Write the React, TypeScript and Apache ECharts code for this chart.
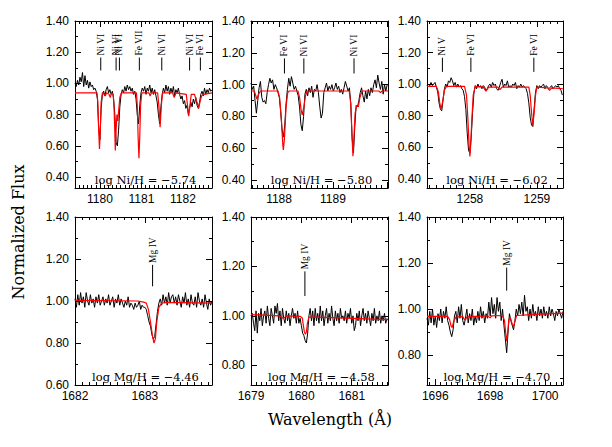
import React, { useEffect, useRef } from "react";
import * as echarts from "echarts";

// ---------- Observed spectra (black): start wavelength, step, flux values ----------
const OBS1_START = 1179.4, OBS1_STEP = 0.03;
const OBS1 = [
  1.00, 0.98, 1.02, 0.99, 1.04, 1.01, 1.07, 0.98, 1.05, 0.99,
  1.02, 0.97, 1.01, 0.98, 0.99, 0.96, 0.97, 0.95, 0.90, 0.72,
  0.64, 0.84, 0.93, 0.95, 0.92, 0.96, 0.98, 0.94, 0.96, 0.93,
  0.95, 0.90, 0.80, 0.62, 0.60, 0.70, 0.85, 0.93, 0.96, 0.94,
  0.98, 0.95, 0.99, 0.96, 0.98, 0.95, 0.97, 0.93, 0.95, 0.90,
  0.80, 0.74, 0.86, 0.94, 0.97, 0.95, 0.98, 0.93, 0.97, 0.95,
  0.99, 0.94, 0.97, 0.93, 0.96, 0.92, 0.88, 0.80, 0.74, 0.85,
  0.93, 0.97, 0.94, 0.99, 0.95, 0.98, 0.93, 0.97, 0.94, 0.98,
  0.92, 0.96, 0.94, 0.97, 0.93, 0.90, 0.92, 0.87, 0.89, 0.84,
  0.86, 0.80, 0.84, 0.88, 0.85, 0.90, 0.87, 0.91, 0.86, 0.84,
  0.88, 0.93, 0.95, 0.92, 0.97, 0.93, 0.96, 0.94, 0.97, 0.95, 0.96,
];

const OBS2_START = 1187.48, OBS2_STEP = 0.025;
const OBS2 = [
  1.01, 0.97, 0.99, 0.90, 0.82, 0.90, 0.98, 1.02, 0.92, 0.89,
  0.90, 0.88, 0.95, 1.00, 1.04, 1.01, 1.03, 0.97, 1.00, 0.98,
  0.95, 0.92, 0.83, 0.72, 0.67, 0.74, 0.88, 0.97, 1.04, 0.99,
  1.05, 1.01, 0.97, 0.99, 0.96, 0.93, 0.86, 0.75, 0.71, 0.80,
  0.94, 0.97, 0.93, 0.98, 0.95, 0.99, 0.92, 0.97, 0.96, 1.00,
  0.95, 0.86, 0.79, 0.82, 0.95, 0.98, 1.01, 0.96, 0.99, 0.97,
  1.00, 0.96, 0.98, 1.01, 0.97, 0.99, 0.95, 0.97, 0.94, 0.98,
  1.02, 0.99, 0.96, 0.98, 0.88, 0.66, 0.57, 0.74, 0.87, 0.86,
  0.90, 0.95, 0.98, 0.93, 0.89, 0.96, 0.91, 0.97, 0.93, 0.98,
  0.95, 1.00, 1.03, 0.98, 1.06, 1.01, 0.97, 1.02, 0.94, 1.00,
  0.96, 1.00,
];

const OBS3_START = 1257.36, OBS3_STEP = 0.02;
const OBS3 = [
  0.99, 1.00, 0.99, 1.01, 0.99, 1.00, 1.01, 0.98, 0.95, 0.88,
  0.84, 0.83, 0.90, 0.97, 1.00, 0.98, 1.02, 1.01, 1.04, 1.02,
  0.99, 1.01, 0.98, 1.00, 0.98, 0.99, 0.97, 0.96, 0.92, 0.84,
  0.69, 0.58, 0.56, 0.66, 0.82, 0.94, 0.99, 0.97, 1.00, 0.98,
  0.99, 0.97, 0.99, 0.98, 0.96, 0.97, 0.99, 1.00, 0.98, 1.01,
  0.99, 1.00, 0.97, 0.96, 0.98, 1.01, 1.03, 0.98, 1.00, 0.99,
  1.02, 0.98, 0.99, 0.98, 1.00, 0.99, 1.01, 0.97, 0.99, 0.98,
  1.00, 0.98, 0.99, 0.98, 0.97, 0.94, 0.88, 0.79, 0.74, 0.73,
  0.85, 0.95, 0.99, 0.97, 0.99, 0.98, 0.99, 1.00, 0.97, 0.99,
  0.98, 0.97, 0.98, 0.99, 0.97, 0.98, 0.99, 0.98, 0.99, 0.97,
  0.96, 0.93,
];

const OBS4_START = 1682.0, OBS4_STEP = 0.02;
const OBS4 = [
  1.01, 0.97, 1.03, 0.98, 1.04, 0.99, 1.02, 0.97, 1.04, 1.00,
  0.98, 1.03, 0.99, 1.01, 0.97, 1.02, 0.99, 1.03, 0.98, 1.00,
  1.02, 0.98, 1.01, 0.99, 1.03, 0.98, 1.00, 1.02, 0.97, 1.01,
  0.99, 1.03, 0.98, 1.01, 0.99, 0.97, 1.00, 0.98, 1.02, 0.97,
  0.99, 0.98, 0.96, 0.99, 0.97, 0.98, 1.00, 0.96, 0.98, 0.97,
  0.97, 0.96, 0.93, 0.90, 0.88, 0.84, 0.82, 0.83, 0.89, 0.95,
  0.99, 1.01, 0.98, 1.03, 0.99, 1.02, 0.98, 1.04, 0.99, 1.02,
  1.03, 0.99, 1.02, 0.98, 1.03, 1.00, 0.97, 1.02, 0.99, 1.04,
  0.98, 1.01, 0.97, 1.03, 0.99, 0.98, 1.02, 0.97, 1.04, 1.00,
  0.98, 1.01, 0.97, 1.03, 0.99, 0.96, 1.01, 0.98, 1.00,
];

const OBS5_START = 1679.0, OBS5_STEP = 0.025;
const OBS5 = [
  1.00, 1.01, 0.97, 0.94, 1.02, 0.93, 1.01, 0.98, 1.03, 0.96,
  1.00, 1.02, 0.97, 1.04, 0.99, 0.96, 1.03, 1.00, 0.97, 1.04,
  1.01, 1.05, 0.98, 1.02, 0.96, 1.03, 0.99, 0.97, 1.02, 0.98,
  1.01, 0.96, 1.00, 1.03, 0.99, 1.01, 0.97, 1.02, 0.97, 0.99,
  0.96, 0.93, 0.92, 0.90, 0.89, 0.93, 1.00, 1.03, 0.98, 1.02,
  0.96, 1.03, 0.98, 1.01, 0.97, 1.04, 0.98, 1.02, 0.96, 1.00,
  1.03, 0.97, 1.01, 0.98, 1.04, 0.99, 0.96, 1.02, 0.98, 1.01,
  0.97, 1.03, 0.99, 1.00, 0.98, 1.02, 0.97, 1.01, 0.99, 1.03,
  0.97, 1.00, 0.94, 0.96, 1.01, 0.98, 1.02, 0.96, 1.00, 1.03,
  0.98, 1.01, 0.97, 1.02, 0.99, 0.96, 1.01, 0.98, 1.03, 0.97,
  1.00, 0.98, 1.02, 0.97, 1.00, 0.98, 1.01, 0.97, 0.99,
];

const OBS6_START = 1695.7, OBS6_STEP = 0.05;
const OBS6 = [
  0.96, 0.93, 0.99, 0.94, 1.00, 0.93, 0.97, 0.92, 0.98, 0.95,
  1.00, 0.94, 0.99, 0.96, 1.01, 0.95, 0.93, 0.90, 0.88, 0.91,
  0.97, 0.99, 0.94, 1.01, 0.96, 1.02, 0.95, 0.93, 0.96, 1.00,
  0.94, 0.98, 0.95, 1.00, 0.93, 0.97, 0.94, 0.99, 0.95, 1.01,
  0.96, 0.99, 0.94, 0.98, 0.96, 1.03, 0.97, 1.05, 0.98, 1.02,
  0.96, 1.05, 0.99, 1.03, 0.95, 1.00, 0.93, 0.87, 0.81, 0.90,
  0.98, 0.95, 0.93, 0.91, 0.95, 1.00, 0.97, 1.02, 0.98, 1.03,
  0.97, 1.06, 0.99, 1.01, 0.95, 1.00, 0.96, 1.02, 0.97, 0.99,
  0.95, 1.01, 0.97, 1.00, 0.96, 1.01, 0.97, 0.99, 0.96, 1.01,
  0.97, 1.00, 0.98, 0.95, 0.99, 0.97, 1.00, 0.98, 0.96, 0.99,
];

// ---------- Model spectra (red): [wavelength, flux] ----------
const MODEL1 = [
  [1179.4, 0.94], [1179.93, 0.94], [1179.95, 0.88], [1179.97, 0.70], [1179.99, 0.58], [1180.01, 0.70],
  [1180.03, 0.88], [1180.06, 0.94], [1180.10, 0.93], [1180.13, 0.92], [1180.16, 0.94], [1180.22, 0.93],
  [1180.25, 0.91], [1180.28, 0.94], [1180.32, 0.93], [1180.34, 0.85], [1180.36, 0.68], [1180.37, 0.57],
  [1180.39, 0.70], [1180.41, 0.80], [1180.43, 0.76], [1180.45, 0.82], [1180.48, 0.91], [1180.52, 0.94],
  [1180.88, 0.94], [1180.90, 0.86], [1180.92, 0.66], [1180.94, 0.52], [1180.96, 0.66], [1180.98, 0.86],
  [1181.01, 0.94], [1181.18, 0.94], [1181.21, 0.92], [1181.24, 0.94], [1181.39, 0.94], [1181.42, 0.86],
  [1181.45, 0.72], [1181.48, 0.86], [1181.51, 0.94], [1181.75, 0.94], [1181.79, 0.91], [1181.83, 0.94],
  [1182.08, 0.93], [1182.11, 0.86], [1182.14, 0.79], [1182.17, 0.86], [1182.20, 0.93], [1182.28, 0.93],
  [1182.31, 0.90], [1182.35, 0.87], [1182.38, 0.84], [1182.41, 0.88], [1182.45, 0.92], [1182.50, 0.93],
  [1182.7, 0.94],
];
const MODEL2 = [
  [1187.48, 0.96], [1187.54, 0.96], [1187.57, 0.93], [1187.59, 0.91], [1187.62, 0.94], [1187.66, 0.96],
  [1187.98, 0.96], [1188.01, 0.92], [1188.04, 0.80], [1188.07, 0.62], [1188.08, 0.59], [1188.10, 0.66],
  [1188.13, 0.86], [1188.16, 0.95], [1188.19, 0.96], [1188.35, 0.96], [1188.38, 0.92], [1188.41, 0.84],
  [1188.43, 0.81], [1188.46, 0.86], [1188.49, 0.93], [1188.52, 0.96], [1189.30, 0.96], [1189.33, 0.88],
  [1189.35, 0.70], [1189.37, 0.55], [1189.39, 0.68], [1189.41, 0.82], [1189.44, 0.87], [1189.47, 0.86],
  [1189.50, 0.92], [1189.54, 0.96], [1189.85, 0.96], [1189.88, 0.95], [1189.91, 0.96], [1190.02, 0.96],
];
const MODEL3 = [
  [1257.36, 0.985], [1257.50, 0.985], [1257.53, 0.95], [1257.55, 0.88], [1257.57, 0.84], [1257.59, 0.88],
  [1257.62, 0.96], [1257.65, 0.985], [1257.92, 0.985], [1257.95, 0.93], [1257.97, 0.78], [1257.99, 0.60],
  [1258.00, 0.54], [1258.01, 0.60], [1258.03, 0.78], [1258.05, 0.93], [1258.08, 0.985], [1258.20, 0.98],
  [1258.24, 0.955], [1258.28, 0.98], [1258.42, 0.98], [1258.45, 0.965], [1258.48, 0.98], [1258.88, 0.98],
  [1258.90, 0.93], [1258.92, 0.82], [1258.94, 0.74], [1258.96, 0.82], [1258.98, 0.93], [1259.00, 0.98],
  [1259.16, 0.975], [1259.19, 0.96], [1259.22, 0.975], [1259.39, 0.97],
];
const MODEL4 = [
  [1682.0, 1.003], [1682.90, 1.0], [1682.98, 0.995], [1683.02, 0.99], [1683.05, 0.96], [1683.08, 0.90],
  [1683.11, 0.83], [1683.13, 0.80], [1683.15, 0.82], [1683.17, 0.90], [1683.20, 0.97], [1683.24, 0.99],
  [1683.30, 0.993], [1683.96, 0.99],
];
const MODEL5 = [
  [1679.0, 1.005], [1679.55, 1.0], [1679.60, 0.995], [1679.64, 0.99], [1679.68, 0.995], [1679.72, 1.0],
  [1679.98, 0.998], [1680.02, 0.99], [1680.04, 0.96], [1680.06, 0.935], [1680.08, 0.925], [1680.10, 0.935],
  [1680.12, 0.97], [1680.15, 0.995], [1680.30, 0.995], [1681.0, 0.99], [1681.72, 0.985],
];
const MODEL6 = [
  [1695.7, 0.968], [1696.45, 0.968], [1696.52, 0.955], [1696.58, 0.925], [1696.62, 0.92], [1696.67, 0.945],
  [1696.75, 0.965], [1697.0, 0.967], [1697.06, 0.955], [1697.10, 0.953], [1697.15, 0.966], [1697.9, 0.97],
  [1698.0, 0.962], [1698.05, 0.97], [1698.45, 0.972], [1698.52, 0.95], [1698.57, 0.89], [1698.60, 0.86],
  [1698.63, 0.89], [1698.68, 0.955], [1698.74, 0.96], [1698.80, 0.935], [1698.85, 0.925], [1698.90, 0.945],
  [1698.96, 0.972], [1699.5, 0.976], [1700.65, 0.982],
];

// ---------- Line identifications ----------
const IDS1: [number, string][] = [
  [1180.02, "Ni VI"], [1180.39, "Ni VI"], [1180.47, "Ni VI"], [1180.95, "Fe VII"],
  [1181.49, "Ni VI"], [1182.16, "Ni VI"], [1182.42, "Fe VI"],
];
const IDS2: [number, string][] = [[1188.10, "Fe VI"], [1188.46, "Ni VI"], [1189.39, "Ni VI"]];
const IDS3: [number, string][] = [[1257.59, "Ni V"], [1258.015, "Fe VI"], [1258.955, "Fe VI"]];
const IDS4: [number, string][] = [[1683.11, "Mg IV"]];
const IDS5: [number, string][] = [[1680.07, "Mg IV"]];
const IDS6: [number, string][] = [[1698.60, "Mg IV"]];

// ---------- Tick labels ----------
const X_LABELS = [
  [1180, 1181, 1182], [1188, 1189], [1258, 1259],
  [1682, 1683], [1679, 1680, 1681], [1696, 1698, 1700],
];
const Y_LABELS_TOP = [0.4, 0.6, 0.8, 1.0, 1.2, 1.4];
const Y_LABELS_BOTTOM = [
  [0.6, 0.8, 1.0, 1.2, 1.4], [0.8, 1.0, 1.2, 1.4], [0.8, 1.0, 1.2, 1.4],
];
const NOTES = [
  "log Ni/H = \u22125.74", "log Ni/H = \u22125.80", "log Ni/H = \u22126.02",
  "log Mg/H = \u22124.46", "log Mg/H = \u22124.58", "log Mg/H = \u22124.70",
];

const X_RANGES = [
  [1179.4, 1182.7], [1187.48, 1190.02], [1257.36, 1259.39],
  [1682.0, 1683.96], [1679.0, 1681.72], [1695.7, 1700.65],
];
const Y_RANGES = [
  [0.33, 1.4], [0.35, 1.4], [0.34, 1.4],
  [0.6, 1.4], [0.72, 1.4], [0.67, 1.4],
];
const ID_Y = [
  [1.083, 1.166], [1.07, 1.165], [1.077, 1.167],
  [1.07, 1.172], [1.08, 1.18], [1.08, 1.18],
];

const COLS = [
  { left: 75, width: 137 }, { left: 251, width: 137 }, { left: 427, width: 136 },
];
const ROWS = [{ top: 21, height: 167 }, { top: 217, height: 168 }];

const SANS = '"Liberation Sans", Arial, sans-serif';
const SERIF = '"DejaVu Serif", serif';

function tickList(min: number, max: number, step: number) {
  const out: number[] = [];
  const s = Math.ceil(min / step - 1e-6);
  for (let k = s; k * step <= max + 1e-6; k++) out.push(+(k * step).toFixed(4));
  return out;
}

function buildOption() {
  const obs = [
    [OBS1_START, OBS1_STEP, OBS1], [OBS2_START, OBS2_STEP, OBS2], [OBS3_START, OBS3_STEP, OBS3],
    [OBS4_START, OBS4_STEP, OBS4], [OBS5_START, OBS5_STEP, OBS5], [OBS6_START, OBS6_STEP, OBS6],
  ] as [number, number, number[]][];
  const models = [MODEL1, MODEL2, MODEL3, MODEL4, MODEL5, MODEL6];
  const ids = [IDS1, IDS2, IDS3, IDS4, IDS5, IDS6];

  const grid: any[] = [];
  const xAxis: any[] = [];
  const yAxis: any[] = [];
  const series: any[] = [];
  const graphic: any[] = [];
  const line = { color: "#000", width: 1 };

  for (let g = 0; g < 6; g++) {
    const col = COLS[g % 3];
    const row = ROWS[Math.floor(g / 3)];
    grid.push({ left: col.left, top: row.top, width: col.width, height: row.height, containLabel: false });
    const [xmin, xmax] = X_RANGES[g];
    const [ymin, ymax] = Y_RANGES[g];
    const xMajor = tickList(xmin, xmax, 1);
    const xMinor = tickList(xmin, xmax, g === 5 ? 0.2 : 0.1);
    const yMajor = tickList(ymin, ymax, 0.2);
    const yMinor = tickList(ymin, ymax, 0.1);
    const yLabels = g < 3 ? Y_LABELS_TOP : Y_LABELS_BOTTOM[g - 3];

    const mkX = (position: string, ticks: number[], len: number, labels: number[] | null, showLine: boolean) => ({
      gridIndex: g, type: "value", min: xmin, max: xmax, position,
      axisLine: { show: showLine, onZero: false, lineStyle: line },
      axisTick: { show: true, inside: true, length: len, customValues: ticks, lineStyle: line },
      axisLabel: labels
        ? { show: true, customValues: labels, formatter: (v: number) => String(Math.round(v)), color: "#000",
            fontFamily: SANS, fontSize: 12, margin: 5, hideOverlap: false }
        : { show: false },
      splitLine: { show: false },
    });
    const mkY = (position: string, ticks: number[], len: number, labels: number[] | null, showLine: boolean) => ({
      gridIndex: g, type: "value", min: ymin, max: ymax, position,
      axisLine: { show: showLine, onZero: false, lineStyle: line },
      axisTick: { show: true, inside: true, length: len, customValues: ticks, lineStyle: line },
      axisLabel: labels
        ? { show: true, customValues: labels, formatter: (v: number) => v.toFixed(2), color: "#000",
            fontFamily: SANS, fontSize: 12, margin: 6, hideOverlap: false }
        : { show: false },
      splitLine: { show: false },
    });
    xAxis.push(mkX("bottom", xMajor, 6, X_LABELS[g], true));
    xAxis.push(mkX("bottom", xMinor, 3, null, false));
    xAxis.push(mkX("top", xMajor, 6, null, true));
    xAxis.push(mkX("top", xMinor, 3, null, false));
    yAxis.push(mkY("left", yMajor, 6, yLabels, true));
    yAxis.push(mkY("left", yMinor, 3, null, false));
    yAxis.push(mkY("right", yMajor, 6, null, true));
    yAxis.push(mkY("right", yMinor, 3, null, false));

    const [start, step, vals] = obs[g];
    series.push({
      type: "line", xAxisIndex: 4 * g, yAxisIndex: 4 * g, showSymbol: false, symbol: "none",
      data: vals.map((v, i) => [start + i * step, v]),
      lineStyle: { color: "#000", width: 1 }, z: 2, silent: true,
    });
    series.push({
      type: "line", xAxisIndex: 4 * g, yAxisIndex: 4 * g, showSymbol: false, symbol: "none",
      data: models[g], lineStyle: { color: "#ff0000", width: 1.2 }, z: 3, silent: true,
    });
    const idList = ids[g];
    const [iy0, iy1] = ID_Y[g];
    series.push({
      type: "custom", xAxisIndex: 4 * g, yAxisIndex: 4 * g, silent: true, clip: false, z: 4,
      data: idList.map((d) => [d[0], iy0, iy1]),
      renderItem: (params: any, api: any) => {
        const x = api.value(0);
        const p0 = api.coord([x, api.value(1)]);
        const p1 = api.coord([x, api.value(2)]);
        const label = idList[params.dataIndex][1];
        return {
          type: "group",
          children: [
            { type: "line", shape: { x1: p0[0], y1: p0[1], x2: p1[0], y2: p1[1] }, style: { stroke: "#000", lineWidth: 1 } },
            {
              type: "text", x: p1[0], y: p1[1] - 2, rotation: Math.PI / 2,
              style: { text: label, font: '9.5px "Liberation Serif", serif', fill: "#000", align: "left", verticalAlign: "middle" },
            },
          ],
        };
      },
    });

    graphic.push({
      type: "text", x: col.left + col.width / 2 + 2, y: row.top + row.height - 8,
      style: { text: NOTES[g], font: `11.5px ${SERIF}`, fill: "#000", align: "center", verticalAlign: "middle" },
    });
  }

  graphic.push({
    type: "text", x: 18, y: 232, rotation: Math.PI / 2,
    style: { text: "Normalized Flux", font: `16px ${SERIF}`, fill: "#000", align: "center", verticalAlign: "middle" },
  });
  graphic.push({
    type: "text", x: 330, y: 419,
    style: { text: "Wavelength (\u00c5)", font: `16px ${SERIF}`, fill: "#000", align: "center", verticalAlign: "middle" },
  });

  return { animation: false, backgroundColor: "#fff", grid, xAxis, yAxis, series, graphic };
}

export default function App() {
  const ref = useRef<HTMLDivElement>(null);
  useEffect(() => {
    if (!ref.current) return;
    const chart = echarts.init(ref.current, undefined, { renderer: "svg" });
    chart.setOption(buildOption() as any);
    return () => chart.dispose();
  }, []);
  return <div ref={ref} style={{ position: "absolute", left: 0, top: 0, width: 612, height: 447 }} />;
}
